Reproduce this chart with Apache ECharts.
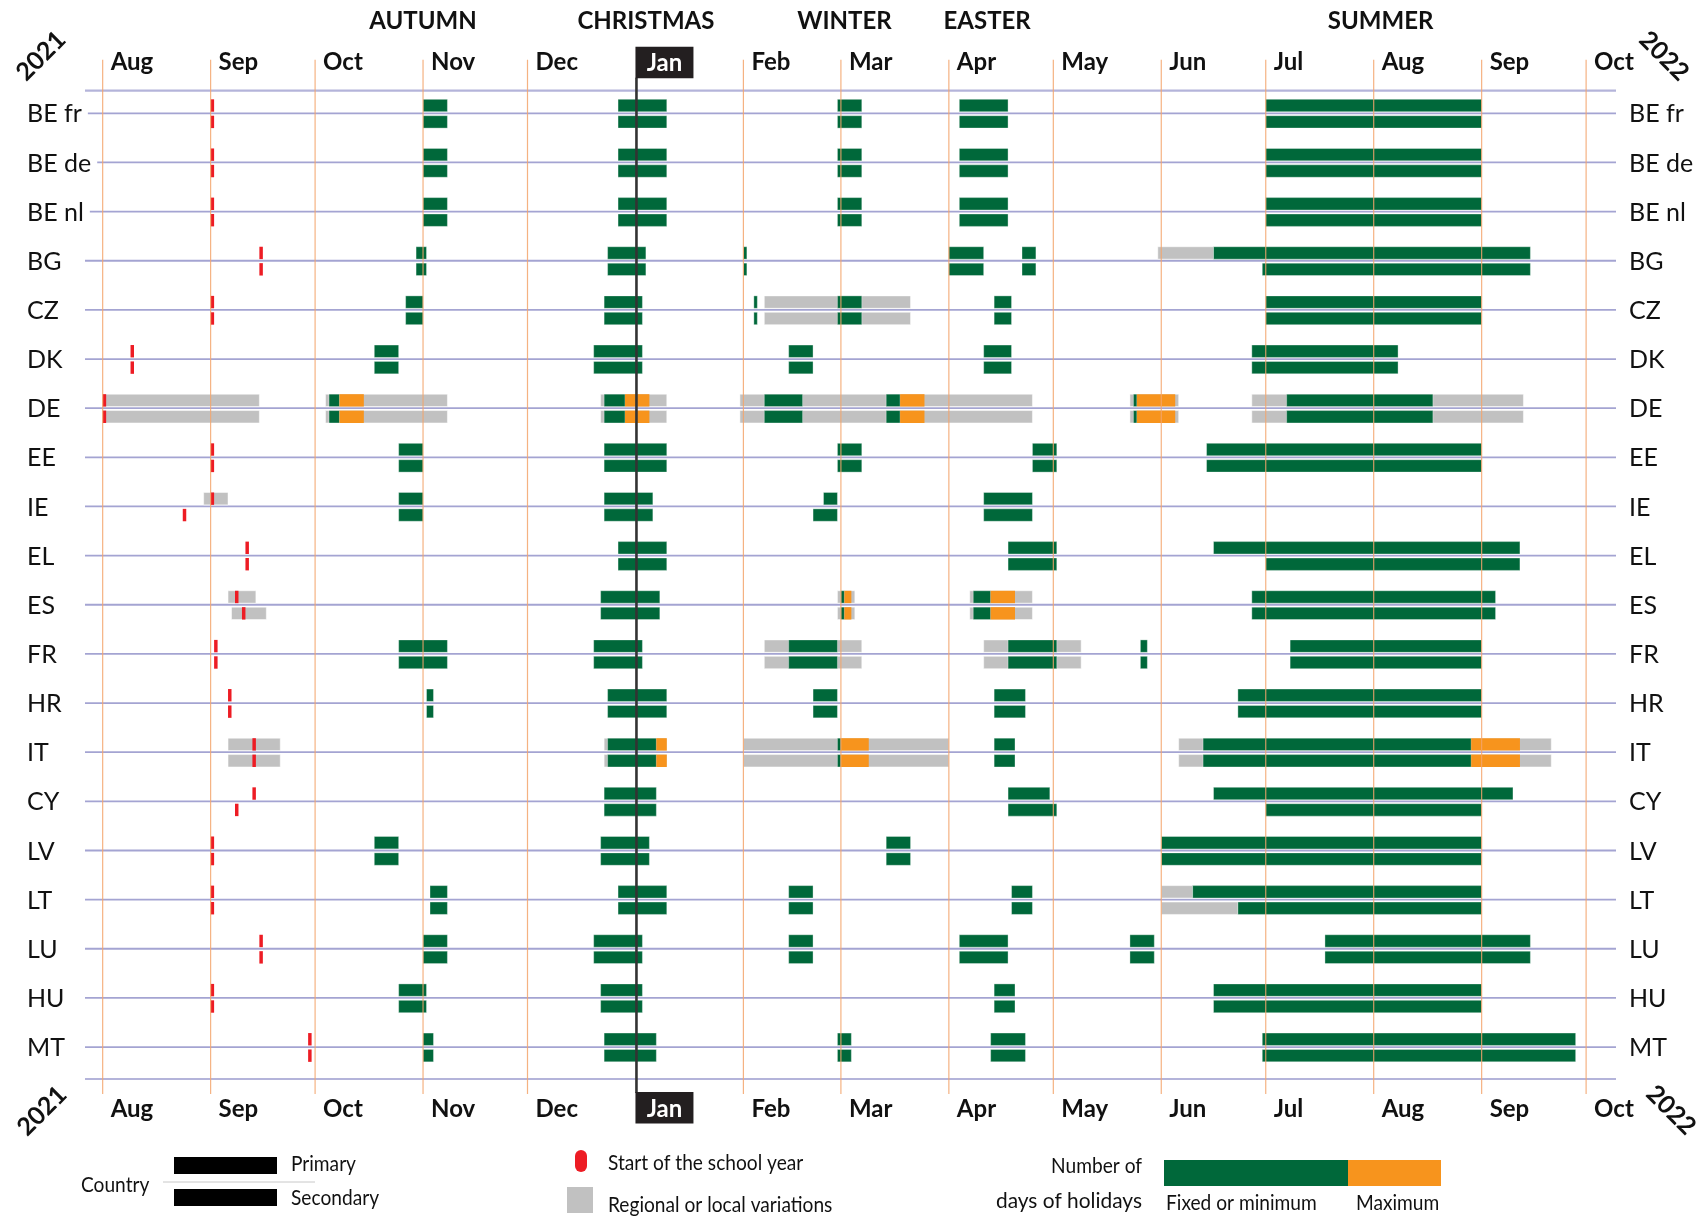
<!DOCTYPE html>
<html><head><meta charset="utf-8">
<script src="https://cdn.jsdelivr.net/npm/echarts@6/dist/echarts.min.js"></script>
<style>html,body{margin:0;padding:0;background:#fff}#c{width:1706px;height:1216px}</style>
</head><body><div id="c"></div>
<script>
// ---------------- DATA ----------------
const countries = ['BE fr','BE de','BE nl','BG','CZ','DK','DE','EE','IE','EL','ES','FR','HR','IT','CY','LV','LT','LU','HU','MT'];
const monthStarts = ['2021-08-01','2021-09-01','2021-10-01','2021-11-01','2021-12-01','2022-01-01','2022-02-01','2022-03-01','2022-04-01','2022-05-01','2022-06-01','2022-07-01','2022-08-01','2022-09-01','2022-10-01'];
const monthLabels = ['Aug','Sep','Oct','Nov','Dec','Jan','Feb','Mar','Apr','May','Jun','Jul','Aug','Sep','Oct'];
const seasonLabels = ['AUTUMN','CHRISTMAS','WINTER','EASTER','SUMMER'];
const seasonCentres = ['2021-11-01','2022-01-04','2022-03-02','2022-04-12','2022-08-03'];
// level: P = primary (upper bar), S = secondary (lower bar), B = both
const schoolStart = [
  ['BE fr','B','2021-09-01'],['BE de','B','2021-09-01'],['BE nl','B','2021-09-01'],['BG','B','2021-09-15'],
  ['CZ','B','2021-09-01'],['DK','B','2021-08-09'],['DE','B','2021-08-01'],['EE','B','2021-09-01'],
  ['IE','P','2021-09-01'],['IE','S','2021-08-24'],['EL','B','2021-09-11'],['ES','P','2021-09-08'],['ES','S','2021-09-10'],
  ['FR','B','2021-09-02'],['HR','B','2021-09-06'],['IT','B','2021-09-13'],['CY','P','2021-09-13'],['CY','S','2021-09-08'],
  ['LV','B','2021-09-01'],['LT','B','2021-09-01'],['LU','B','2021-09-15'],['HU','B','2021-09-01'],['MT','B','2021-09-29']
];
const regionalVariations = [
  ['BG','P','2022-05-31','2022-06-15'],
  ['CZ','B','2022-02-07','2022-03-20'],
  ['DE','B','2021-08-01','2021-09-14'],['DE','B','2021-10-04','2021-11-07'],['DE','B','2021-12-22','2022-01-09'],
  ['DE','B','2022-01-31','2022-04-24'],['DE','B','2022-05-23','2022-06-05'],['DE','B','2022-06-27','2022-09-12'],
  ['IE','P','2021-08-30','2021-09-05'],
  ['ES','P','2021-09-06','2021-09-13'],['ES','S','2021-09-07','2021-09-16'],['ES','B','2022-02-28','2022-03-04'],['ES','B','2022-04-07','2022-04-24'],
  ['FR','B','2022-02-07','2022-03-06'],['FR','B','2022-04-11','2022-05-08'],
  ['IT','B','2021-09-06','2021-09-20'],['IT','B','2021-12-23','2022-01-09'],['IT','B','2022-02-01','2022-03-31'],['IT','B','2022-06-06','2022-09-20'],
  ['LT','P','2022-06-01','2022-06-09'],['LT','S','2022-06-01','2022-06-22']
];
const fixedHolidays = [
  ['BE fr','B','2021-11-01','2021-11-07'],['BE fr','B','2021-12-27','2022-01-09'],['BE fr','B','2022-02-28','2022-03-06'],['BE fr','B','2022-04-04','2022-04-17'],['BE fr','B','2022-07-01','2022-08-31'],
  ['BE de','B','2021-11-01','2021-11-07'],['BE de','B','2021-12-27','2022-01-09'],['BE de','B','2022-02-28','2022-03-06'],['BE de','B','2022-04-04','2022-04-17'],['BE de','B','2022-07-01','2022-08-31'],
  ['BE nl','B','2021-11-01','2021-11-07'],['BE nl','B','2021-12-27','2022-01-09'],['BE nl','B','2022-02-28','2022-03-06'],['BE nl','B','2022-04-04','2022-04-17'],['BE nl','B','2022-07-01','2022-08-31'],
  ['BG','B','2021-10-30','2021-11-01'],['BG','B','2021-12-24','2022-01-03'],['BG','B','2022-02-01','2022-02-01'],['BG','B','2022-04-01','2022-04-10'],['BG','B','2022-04-22','2022-04-25'],['BG','P','2022-06-16','2022-09-14'],['BG','S','2022-06-30','2022-09-14'],
  ['CZ','B','2021-10-27','2021-10-31'],['CZ','B','2021-12-23','2022-01-02'],['CZ','B','2022-02-04','2022-02-04'],['CZ','B','2022-02-28','2022-03-06'],['CZ','B','2022-04-14','2022-04-18'],['CZ','B','2022-07-01','2022-08-31'],
  ['DK','B','2021-10-18','2021-10-24'],['DK','B','2021-12-20','2022-01-02'],['DK','B','2022-02-14','2022-02-20'],['DK','B','2022-04-11','2022-04-18'],['DK','B','2022-06-27','2022-08-07'],
  ['DE','B','2021-10-05','2021-10-07'],['DE','B','2021-12-23','2021-12-28'],['DE','B','2022-02-07','2022-02-17'],['DE','B','2022-03-14','2022-03-17'],['DE','B','2022-05-24','2022-05-24'],['DE','B','2022-07-07','2022-08-17'],
  ['EE','B','2021-10-25','2021-10-31'],['EE','B','2021-12-23','2022-01-09'],['EE','B','2022-02-28','2022-03-06'],['EE','B','2022-04-25','2022-05-01'],['EE','B','2022-06-14','2022-08-31'],
  ['IE','B','2021-10-25','2021-10-31'],['IE','B','2021-12-23','2022-01-05'],['IE','P','2022-02-24','2022-02-27'],['IE','S','2022-02-21','2022-02-27'],['IE','B','2022-04-11','2022-04-24'],
  ['EL','B','2021-12-27','2022-01-09'],['EL','B','2022-04-18','2022-05-01'],['EL','P','2022-06-16','2022-09-11'],['EL','S','2022-07-01','2022-09-11'],
  ['ES','B','2021-12-22','2022-01-07'],['ES','B','2022-03-01','2022-03-01'],['ES','B','2022-04-08','2022-04-12'],['ES','B','2022-06-27','2022-09-04'],
  ['FR','B','2021-10-25','2021-11-07'],['FR','B','2021-12-20','2022-01-02'],['FR','B','2022-02-14','2022-02-27'],['FR','B','2022-04-18','2022-05-01'],['FR','B','2022-05-26','2022-05-27'],['FR','B','2022-07-08','2022-08-31'],
  ['HR','B','2021-11-02','2021-11-03'],['HR','B','2021-12-24','2022-01-09'],['HR','B','2022-02-21','2022-02-27'],['HR','B','2022-04-14','2022-04-22'],['HR','B','2022-06-23','2022-08-31'],
  ['IT','B','2021-12-24','2022-01-06'],['IT','B','2022-02-28','2022-02-28'],['IT','B','2022-04-14','2022-04-19'],['IT','B','2022-06-13','2022-08-28'],
  ['CY','B','2021-12-23','2022-01-06'],['CY','P','2022-04-18','2022-04-29'],['CY','S','2022-04-18','2022-05-01'],['CY','P','2022-06-16','2022-09-09'],['CY','S','2022-07-01','2022-08-31'],
  ['LV','B','2021-10-18','2021-10-24'],['LV','B','2021-12-22','2022-01-04'],['LV','B','2022-03-14','2022-03-20'],['LV','B','2022-06-01','2022-08-31'],
  ['LT','B','2021-11-03','2021-11-07'],['LT','B','2021-12-27','2022-01-09'],['LT','B','2022-02-14','2022-02-20'],['LT','B','2022-04-19','2022-04-24'],['LT','P','2022-06-10','2022-08-31'],['LT','S','2022-06-23','2022-08-31'],
  ['LU','B','2021-11-01','2021-11-07'],['LU','B','2021-12-20','2022-01-02'],['LU','B','2022-02-14','2022-02-20'],['LU','B','2022-04-04','2022-04-17'],['LU','B','2022-05-23','2022-05-29'],['LU','B','2022-07-18','2022-09-14'],
  ['HU','B','2021-10-25','2021-11-01'],['HU','B','2021-12-22','2022-01-02'],['HU','B','2022-04-14','2022-04-19'],['HU','B','2022-06-16','2022-08-31'],
  ['MT','B','2021-11-01','2021-11-03'],['MT','B','2021-12-23','2022-01-06'],['MT','B','2022-02-28','2022-03-03'],['MT','B','2022-04-13','2022-04-22'],['MT','B','2022-06-30','2022-09-27']
];
const maxHolidays = [
  ['DE','B','2021-10-08','2021-10-14'],['DE','B','2021-12-29','2022-01-04'],['DE','B','2022-03-18','2022-03-24'],['DE','B','2022-05-25','2022-06-04'],
  ['ES','B','2022-03-02','2022-03-03'],['ES','B','2022-04-13','2022-04-19'],
  ['IT','B','2022-01-07','2022-01-09'],['IT','B','2022-03-01','2022-03-08'],['IT','B','2022-08-29','2022-09-11']
];

// ---------------- HELPERS ----------------
const DAY = 864e5;
function t(s){const p=s.split('-').map(Number);return Date.UTC(p[0],p[1]-1,p[2]);}
const X_MIN = Date.UTC(2021,6,27,12), X_MAX = Date.UTC(2022,9,9,14);
const Y_MIN = -0.46, Y_MAX = 19.65;
const GREEN='#00683a', ORANGE='#f7941d', GRAY='#c1c1c1', RED='#ed1c24';
const F_REG = "Lato, 'Liberation Sans', sans-serif";
const F_NARROW = "Lato, 'Liberation Sans', sans-serif";

function barData(list){
  const out=[];
  list.forEach(([c,lv,s,e])=>{
    const r=countries.indexOf(c);
    (lv==='B'?[0,1]:[lv==='P'?0:1]).forEach(l=>out.push([t(s), t(e)+DAY, r, l]));
  });
  return out;
}
function tickData(list){ return barData(list.map(([c,lv,d])=>[c,lv,d,d])); }

function barRenderer(color, stroke){
  return function(params, api){
    const a=api.coord([api.value(0), api.value(2)]);
    const b=api.coord([api.value(1), api.value(2)]);
    const l=api.value(3);
    const y = l===0 ? a[1]-14 : a[1]+2.4;
    return {type:'rect', shape:{x:a[0], y:y, width:b[0]-a[0], height:12.4},
      style:{fill:color, stroke:stroke, lineWidth:stroke?1:0}};
  };
}
function barSeries(name, list, color, stroke){
  return {type:'custom', name, clip:false, renderItem:barRenderer(color, stroke),
    encode:{x:[0,1], y:2}, data:barData(list)};
}

// rows: line + labels
function renderRow(params, api){
  const i=api.value(0);
  const p0=api.coord([X_MIN, i]), p1=api.coord([X_MAX, i]);
  const children=[
    {type:'line', shape:{x1:p0[0]-2, y1:p0[1], x2:p1[0], y2:p1[1]}, style:{stroke:'#a4a4d2', lineWidth:1.8}},
    {type:'text', style:{text:countries[i], x:27, y:p0[1]+1, fill:'#111', font:'25px '+F_REG, align:'left', verticalAlign:'middle', backgroundColor:'#fff', padding:[0,6,0,0]}},
    {type:'text', style:{text:countries[i], x:p1[0]+13, y:p0[1]+1, fill:'#111', font:'25px '+F_REG, align:'left', verticalAlign:'middle'}}
  ];
  if(i===0){
    const a=api.coord([X_MIN, Y_MIN]), b=api.coord([X_MAX, Y_MIN]);
    children.push({type:'line', shape:{x1:a[0]-2,y1:a[1],x2:b[0],y2:b[1]}, style:{stroke:'#b4b4da', lineWidth:2.2}});
  }
  if(i===countries.length-1){
    const a=api.coord([X_MIN, Y_MAX]), b=api.coord([X_MAX, Y_MAX]);
    children.push({type:'line', shape:{x1:a[0]-2,y1:a[1],x2:b[0],y2:b[1]}, style:{stroke:'#b4b4da', lineWidth:2.2}});
  }
  return {type:'group', children};
}

// months: vertical line + top/bottom labels
function renderMonth(params, api){
  const i=api.value(1);
  const top=api.coord([api.value(0), Y_MIN]);
  const bot=api.coord([api.value(0), Y_MAX]);
  const x=top[0];
  const lab=monthLabels[i];
  const ch=[];
  if(lab==='Jan'){
    ch.push({type:'line', shape:{x1:x+1,y1:top[1]-13,x2:x+1,y2:bot[1]+14}, style:{stroke:'#333', lineWidth:2.6}});
    [[top[1]-44, top[1]-28],[bot[1]+13, bot[1]+29]].forEach(([by,ty])=>{
      ch.push({type:'rect', shape:{x:x, y:by, width:58, height:31.5}, style:{fill:'#231f20'}});
      ch.push({type:'text', style:{text:lab, x:x+29, y:ty+1, fill:'#fff', font:'bold 24px '+F_REG, align:'center', verticalAlign:'middle'}});
    });
  } else {
    ch.push({type:'line', shape:{x1:x,y1:top[1]-31,x2:x,y2:bot[1]+15}, style:{stroke:'#f3a46c', lineWidth:1.2, opacity:0.85}});
    ch.push({type:'text', style:{text:lab, x:x+8, y:top[1]-28, fill:'#111', font:'bold 24px '+F_REG, align:'left', verticalAlign:'middle'}});
    ch.push({type:'text', style:{text:lab, x:x+8, y:bot[1]+30, fill:'#111', font:'bold 24px '+F_REG, align:'left', verticalAlign:'middle'}});
  }
  return {type:'group', children:ch};
}
function renderSeason(params, api){
  const p=api.coord([api.value(0), Y_MIN]);
  return {type:'text', style:{text:seasonLabels[api.value(1)], x:p[0], y:p[1]-69, fill:'#111', font:'bold 24px '+F_REG, align:'center', verticalAlign:'middle'}};
}

// ---------------- LEGEND / DECOR ----------------
function txt(text, x, y, opts){
  opts = opts || {};
  return Object.assign({type:'text', x, y, scaleX:0.87, style:Object.assign({text, fill:'#111', font:'22px '+F_NARROW, align:'left', verticalAlign:'middle'}, opts.style||{})}, opts.el||{});
}
const graphics = [
  // years
  txt('2021', 41, 56, {el:{rotation:Math.PI/4, scaleX:1}, style:{font:'bold 25px '+F_REG, align:'center'}}),
  txt('2021', 42, 1111, {el:{rotation:Math.PI/4, scaleX:1}, style:{font:'bold 25px '+F_REG, align:'center'}}),
  txt('2022', 1664, 56, {el:{rotation:-Math.PI/4, scaleX:1}, style:{font:'bold 25px '+F_REG, align:'center'}}),
  txt('2022', 1671, 1110, {el:{rotation:-Math.PI/4, scaleX:1}, style:{font:'bold 25px '+F_REG, align:'center'}}),
  // country legend
  {type:'rect', shape:{x:174, y:1157, width:103, height:17}, style:{fill:'#000'}},
  {type:'rect', shape:{x:174, y:1189, width:103, height:17}, style:{fill:'#000'}},
  {type:'line', shape:{x1:163, y1:1182, x2:315, y2:1182}, style:{stroke:'#c8c8c8', lineWidth:1}},
  txt('Country', 81, 1185),
  txt('Primary', 291, 1164),
  txt('Secondary', 291, 1198),
  // school start / regional
  {type:'rect', shape:{x:575, y:1150, width:12, height:22, r:6}, style:{fill:RED}},
  txt('Start of the school year', 608, 1163),
  {type:'rect', shape:{x:567, y:1187, width:26, height:26}, style:{fill:GRAY}},
  txt('Regional or local variations', 608, 1205),
  // holidays
  txt('Number of', 1142, 1166, {style:{align:'right'}}),
  txt('days of holidays', 1142, 1201, {style:{align:'right'}, el:{scaleX:0.95}}),
  {type:'rect', shape:{x:1164, y:1160, width:184, height:26}, style:{fill:GREEN}},
  {type:'rect', shape:{x:1348, y:1160, width:93, height:26}, style:{fill:ORANGE}},
  txt('Fixed or minimum', 1166, 1203),
  txt('Maximum', 1356, 1203)
];

// ---------------- CHART ----------------
const chart = echarts.init(document.getElementById('c'), null, {renderer:'canvas'});
chart.setOption({
  animation:false,
  backgroundColor:'#fff',
  grid:{left:87, right:90, top:90.7, bottom:137},
  xAxis:{type:'value', min:X_MIN, max:X_MAX, show:false},
  yAxis:{type:'value', min:Y_MIN, max:Y_MAX, inverse:true, show:false},
  graphic:graphics,
  series:[
    {type:'custom', name:'rows', clip:false, renderItem:renderRow, data:countries.map((c,i)=>[i]), encode:{y:0}},
    barSeries('Regional or local variations', regionalVariations, GRAY, 'rgba(255,255,255,0.5)'),
    barSeries('Fixed or minimum', fixedHolidays, GREEN, 'rgba(255,255,255,0.35)'),
    barSeries('Maximum', maxHolidays, ORANGE, null),
    {type:'custom', name:'Start of the school year', clip:false, renderItem:barRenderer(RED, null), encode:{x:[0,1], y:2}, data:tickData(schoolStart)},
    {type:'custom', name:'months', clip:false, renderItem:renderMonth, data:monthStarts.map((s,i)=>[t(s), i]), encode:{x:0}},
    {type:'custom', name:'seasons', clip:false, renderItem:renderSeason, data:seasonCentres.map((s,i)=>[t(s), i]), encode:{x:0}}
  ]
});
</script></body></html>
